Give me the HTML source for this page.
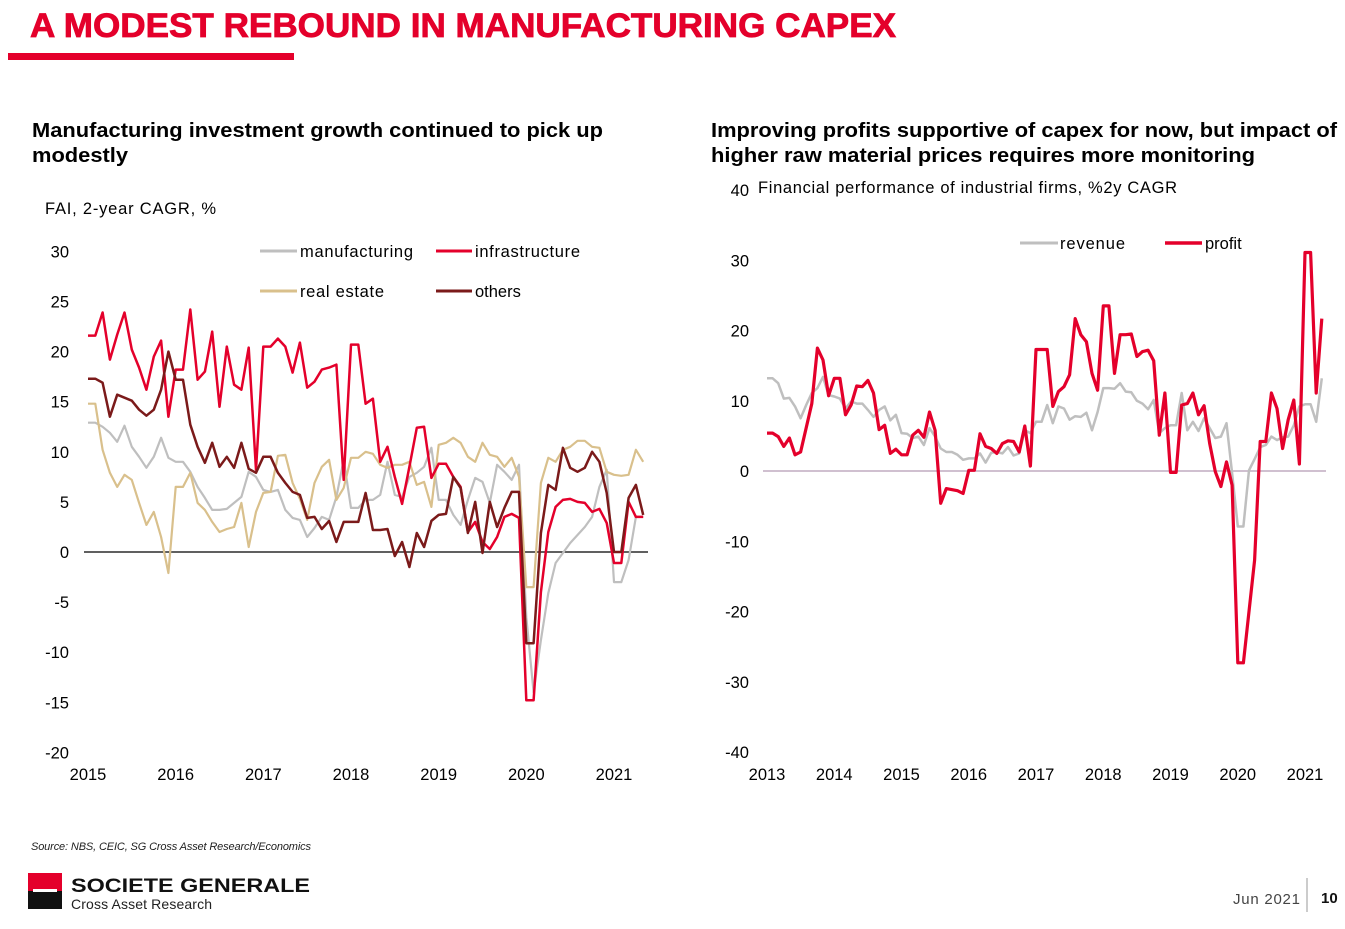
<!DOCTYPE html>
<html><head><meta charset="utf-8">
<style>
html,body{margin:0;padding:0;background:#fff;}
body{width:1345px;height:924px;overflow:hidden;font-family:"Liberation Sans",sans-serif;}
svg text{font-family:"Liberation Sans",sans-serif;}
</style></head>
<body>
<svg id="page" width="1345" height="924" viewBox="0 0 1345 924" xmlns="http://www.w3.org/2000/svg">
  <text x="30" y="37" font-size="34" font-weight="bold" fill="#e4002b" textLength="866" lengthAdjust="spacingAndGlyphs" stroke="#e4002b" stroke-width="0.8">A MODEST REBOUND IN MANUFACTURING CAPEX</text>
  <rect x="8" y="53" width="286" height="7" fill="#e4002b"/>

  <text font-size="20.5" font-weight="bold" fill="#000"><tspan x="32" y="137" textLength="571" lengthAdjust="spacingAndGlyphs">Manufacturing investment growth continued to pick up</tspan><tspan x="32" y="162" textLength="96" lengthAdjust="spacingAndGlyphs">modestly</tspan></text>
  <text x="45" y="214" font-size="16.5" fill="#000" textLength="171">FAI, 2-year CAGR, %</text>

  <text font-size="20.5" font-weight="bold" fill="#000"><tspan x="711" y="137" textLength="626" lengthAdjust="spacingAndGlyphs">Improving profits supportive of capex for now, but impact of</tspan><tspan x="711" y="162" textLength="544" lengthAdjust="spacingAndGlyphs">higher raw material prices requires more monitoring</tspan></text>
  <text x="758" y="193" font-size="16.5" fill="#000" textLength="419">Financial performance of industrial firms, %2y CAGR</text>

  <g id="left"></g>
  <g id="right"></g>

  <line x1="260" y1="251" x2="297" y2="251" stroke="#bfbfbf" stroke-width="3"/>
  <text x="300" y="257" font-size="16.5" textLength="113">manufacturing</text>
  <line x1="436" y1="251" x2="472" y2="251" stroke="#e4002b" stroke-width="3"/>
  <text x="475" y="257" font-size="16.5" textLength="105">infrastructure</text>
  <line x1="260" y1="291" x2="297" y2="291" stroke="#d9c08c" stroke-width="3"/>
  <text x="300" y="297" font-size="16.5" textLength="84">real estate</text>
  <line x1="436" y1="291" x2="472" y2="291" stroke="#7b1a1a" stroke-width="3"/>
  <text x="475" y="297" font-size="16.5">others</text>

  <line x1="1020" y1="243" x2="1058" y2="243" stroke="#bfbfbf" stroke-width="3"/>
  <text x="1060" y="249" font-size="16.5" textLength="65">revenue</text>
  <line x1="1165" y1="243" x2="1202" y2="243" stroke="#e4002b" stroke-width="3.5"/>
  <text x="1205" y="249" font-size="16.5">profit</text>

  <text x="31" y="850" font-size="11" font-style="italic" fill="#222" textLength="280">Source: NBS, CEIC, SG Cross Asset Research/Economics</text>

  <rect x="28" y="873" width="34" height="18" fill="#e4002b"/>
  <rect x="28" y="891" width="34" height="18" fill="#111"/>
  <rect x="33" y="889" width="24" height="3" fill="#fff"/>
  <text x="71" y="892" font-size="19.5" font-weight="bold" fill="#111" textLength="239" lengthAdjust="spacingAndGlyphs">SOCIETE GENERALE</text>
  <text x="71" y="909" font-size="14" fill="#222" textLength="141">Cross Asset Research</text>

  <text x="1233" y="904" font-size="15" fill="#444" textLength="67">Jun 2021</text>
  <line x1="1307" y1="878" x2="1307" y2="912" stroke="#999" stroke-width="1"/>
  <text x="1321" y="903" font-size="15" font-weight="bold" fill="#111">10</text>
</svg>
<script>
// ---------- LEFT CHART DATA (monthly from Jan 2015) ----------
const leftYears = [2015,2016,2017,2018,2019,2020,2021];
const leftYTicks = [30,25,20,15,10,5,0,-5,-10,-15,-20];
const manufacturing = [12.9,12.9,12.5,11.9,11,12.6,10.5,9.5,8.4,9.5,11.4,9.4,9,9,8,6.5,5.4,4.2,4.2,4.3,4.9,5.5,8,7.5,6.2,6,6.2,4.2,3.4,3.2,1.5,2.4,3.5,3.2,5.5,9.2,4.4,4.4,5.2,5.2,5.7,9,5.7,5.5,7.5,7.9,8.5,10.4,5.2,5.2,3.7,2.7,5.2,7.4,7,4.9,8.7,8,7.2,8.7,-6.5,-14,-8.8,-4.1,-1.1,-0.1,0.9,1.7,2.5,3.5,6.5,8.2,-3,-3,-0.8,3.5,3.5];
const infrastructure = [21.6,21.6,23.9,19.2,21.7,23.9,20.2,18.4,16.2,19.5,21.1,13.5,18.2,18.2,24.2,17.2,18,22,14.5,20.5,16.7,16.2,20.4,8.2,20.5,20.5,21.3,20.5,17.9,20.9,16.4,17,18.2,18.4,18.7,7.2,20.7,20.7,14.8,15.3,9,10.5,7.5,4.8,8.5,12.4,12.5,7.4,8.8,8.8,7.5,6.5,2,3,1,0.3,1.5,3.5,3.8,3.4,-14.8,-14.8,-4,2,4.5,5.2,5.3,5,4.9,4,4.3,2.9,-1.1,-1.1,5,3.5,3.5];
const realEstate = [14.8,14.8,10.2,7.9,6.5,7.7,7.2,4.9,2.7,4,1.5,-2.1,6.5,6.5,7.9,4.9,4.2,3,2,2.3,2.5,4.9,0.5,4,5.9,6,9.6,9.7,6.9,5.3,3.2,6.9,8.5,9.2,5.2,6.4,9.4,9.4,10,9.8,8.7,8.4,8.7,8.7,9,6.7,7,4.5,10.7,10.9,11.4,10.9,9.5,9,10.9,9.7,9.5,8.5,9.4,7.5,-3.5,-3.5,6.9,9.4,9,10.2,10.5,11.1,11.1,10.5,10.4,8,7.7,7.6,7.7,10.2,9];
const others = [17.3,17.3,16.9,13.5,15.7,15.4,15.1,14.2,13.6,14.2,16.2,20,17.2,17.2,12.7,10.5,8.9,10.9,8.5,9.5,8.4,10.9,8.3,7.9,9.5,9.5,7.9,6.9,6,5.7,3.4,3.5,2.3,3.1,1,3,3,3,5.9,2.2,2.2,2.3,-0.4,1,-1.5,1.9,0.5,3.1,3.7,3.8,7.5,6.4,1.9,5,-0.1,5,2.5,4.4,6,6,-9.1,-9.1,1.9,6.7,6.2,10.4,8.4,8,8.4,10,9,5.9,0,0,5.4,6.7,3.7];

// ---------- RIGHT CHART DATA (months since Jan 2013) ----------
const rightYears = [2013,2014,2015,2016,2017,2018,2019,2020,2021];
const rightYTicks = [40,30,20,10,0,-10,-20,-30,-40];
const revenue = [13.2,13.2,12.5,10.3,10.4,9.2,7.5,9.4,11.1,11.8,13.4,10.8,10.6,10.3,8.9,9.9,9.6,9.6,8.7,7.7,8.7,9.2,7.2,8,5.4,5.3,4.7,4.9,3.7,6.1,4.9,3.2,2.7,2.7,2.3,1.6,1.8,1.8,2.5,1.2,2.6,2.7,2.5,3.4,2.2,2.5,5.8,5.4,7,7,9.4,6.8,9.2,8.9,7.3,7.8,7.7,8.3,5.8,8.4,11.8,11.8,11.7,12.5,11.3,11.2,10,9.6,8.8,10.1,5.4,6.1,6.5,6.5,11.1,5.8,7,5.7,7.5,6.1,4.7,4.9,6.8,-0.3,-7.9,-7.9,0.1,1.7,3.4,3.7,4.9,4.4,4.8,4.9,6.5,9.2,9.5,9.5,7,13.2];
const profitMonths = [0,1,2,3,4,5,6,8,9,10,11,12,13,14,15,16,17,18,19,20,21,22,23,24,25,26,27,28,29,30,31,32,34,35,36,37,38,39,40,41,42,43,44,45,46,47,48,49,50,51,52,53,54,55,56,57,58,59,60,61,62,63,64,65,66,67,68,69,70,71,72,73,74,75,76,77,78,79,80,81,82,83,84,85,87,88,89,90,91,92,93,94,95,96,97,98,99];
const profit = [5.4,5.4,4.9,3.5,4.7,2.3,2.7,9.6,17.5,15.8,10.7,13.2,13.2,8,9.4,12.1,12,12.9,11.1,5.9,6.5,2.5,3.1,2.3,2.3,5.1,5.8,4.8,8.4,5.8,-4.6,-2.5,-2.8,-3.2,0.1,0.1,5.3,3.5,3.2,2.5,3.9,4.3,4.2,2.7,6.4,0.7,17.3,17.3,17.3,9.2,11.3,12,13.7,21.7,19.4,18.4,13.9,11.5,23.5,23.5,13.9,19.4,19.4,19.5,16.3,17,17.2,15.7,5.1,11.1,-0.2,-0.2,9.4,9.6,11.1,8,9.3,3.9,-0.1,-2.2,1.3,-2,-27.3,-27.3,-12.7,4.2,4.2,11.1,8.9,3.2,7.3,10.1,1,31.1,31.1,11.1,21.7];

const NS = 'http://www.w3.org/2000/svg';
function mk(tag, attrs, parent){ const e=document.createElementNS(NS,tag); for(const k in attrs) e.setAttribute(k,attrs[k]); parent.appendChild(e); return e; }

const lx = m => 88 + m * (614 - 88) / 72;
const lyr = y => 88 + (y - 2015) * (614 - 88) / 6;
const ly = v => 552 - v * 10.02;
const L = document.getElementById('left');
leftYTicks.forEach(t => {
  const e = mk('text', {x: 69, y: ly(t) + 6, 'text-anchor': 'end', 'font-size': 16.5}, L);
  e.textContent = t;
  
  
});
leftYears.forEach(yr => {
  const e = mk('text', {x: lyr(yr), y: 780, 'text-anchor': 'middle', 'font-size': 16.5}, L);
  e.textContent = yr;
  
  
});
const z = mk('line', {x1: 84, x2: 648, y1: ly(0), y2: ly(0), stroke: '#000', 'stroke-width': 1.3}, L);


function leftLine(arr, color, w, name){
  const p = mk('polyline', {points: arr.map((v,i)=>lx(i).toFixed(1)+','+ly(v).toFixed(1)).join(' '), fill:'none', stroke: color, 'stroke-width': w, 'stroke-linejoin':'round'}, L);
  
  
}
leftLine(manufacturing, '#bfbfbf', 2.2, 'series-manufacturing');
leftLine(realEstate, '#d9c08c', 2.2, 'series-real-estate');
leftLine(infrastructure, '#e4002b', 2.5, 'series-infrastructure');
leftLine(others, '#7b1a1a', 2.5, 'series-others');

const rx = m => 767 + m * (1305 - 767) / 96;
const ryr = y => 767 + (y - 2013) * (1305 - 767) / 8;
const ry = v => 471 - v * 7.025;
const R = document.getElementById('right');
rightYTicks.forEach(t => {
  const e = mk('text', {x: 749, y: ry(t) + 6, 'text-anchor': 'end', 'font-size': 16.5}, R);
  e.textContent = t;
  
  
});
rightYears.forEach(yr => {
  const e = mk('text', {x: ryr(yr), y: 780, 'text-anchor': 'middle', 'font-size': 16.5}, R);
  e.textContent = yr;
  
  
});
const z2 = mk('line', {x1: 763, x2: 1326, y1: ry(0), y2: ry(0), stroke: '#b49ab4', 'stroke-width': 1.3}, R);


const rev = mk('polyline', {points: revenue.map((v,i)=>rx(i).toFixed(1)+','+ry(v).toFixed(1)).join(' '), fill:'none', stroke:'#bfbfbf', 'stroke-width':2.5, 'stroke-linejoin':'round'}, R);


const prf = mk('polyline', {points: profit.map((v,i)=>rx(profitMonths[i]).toFixed(1)+','+ry(v).toFixed(1)).join(' '), fill:'none', stroke:'#e4002b', 'stroke-width':3.2, 'stroke-linejoin':'round'}, R);


</script>
</body></html>
